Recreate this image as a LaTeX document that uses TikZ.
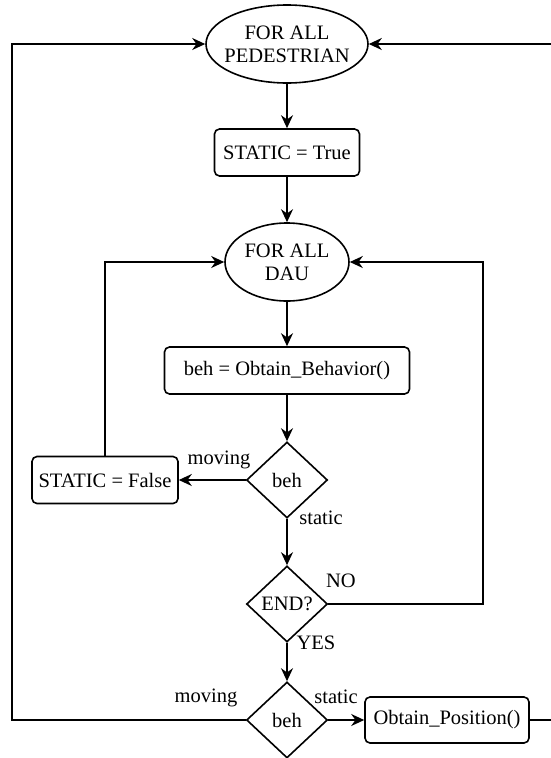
\documentclass[tikz,border=0pt]{standalone}
\usepackage{fontspec}
\setmainfont{Liberation Serif}
\usetikzlibrary{shapes.geometric,arrows.meta}

\begin{document}
\begin{tikzpicture}[x=1pt,y=-1pt,line width=1.6pt,
	font=\fontsize{20.5}{23}\selectfont,
	>={Stealth[length=13pt,width=12pt]},
	loopnode/.style={ellipse,draw,align=center,inner sep=0pt},
	procbox/.style={rectangle,draw,rounded corners=5pt,minimum height=47pt,inner sep=2pt},
	decision/.style={diamond,draw,inner sep=0pt,minimum width=81pt,minimum height=76pt},
	lbl/.style={inner sep=0pt}]
	% Fix the frame
	\clip (0,0) rectangle (551,758);
	
	% Draw the nodes
	\node[loopnode,inner xsep=-13pt,minimum width=162pt,minimum height=78pt] (ped) at (287,44) {FOR ALL\\PEDESTRIAN};
	\node[procbox,minimum width=145pt] (stTrue) at (287,152.5) {STATIC = True};
	\node[loopnode,minimum width=124pt,minimum height=78pt] (dau) at (287,262) {FOR ALL\\DAU};
	\node[procbox,minimum width=245pt] (obtBeh) at (287,370.5) {beh = Obtain\_Behavior()};
	\node[decision] (behA) at (287,480) {beh};
	\node[procbox,minimum width=146pt] (stFalse) at (105,480) {STATIC = False};
	\node[decision] (endq) at (287,604) {END?};
	\node[decision] (behB) at (287,720) {beh};
	\node[procbox,minimum width=164pt,minimum height=46pt] (obtPos) at (447,720) {Obtain\_Position()};
	
	% Loop corners
	\coordinate (rloop) at (483,262);
	\coordinate (lloop) at (12,44);
	\coordinate (rout) at (560,44);
	
	% Draw the arrows
	\draw[->] (ped) -- (stTrue);
	\draw[->] (stTrue) -- (dau);
	\draw[->] (dau) -- (obtBeh);
	\draw[->] (obtBeh) -- (behA);
	\draw[->] (behA) -- (endq);
	\draw[->] (endq) -- (behB);
	\draw[->] (behA.west) -- (stFalse.east);
	\draw[->] (stFalse.north) |- (dau.west);
	\draw[->] (endq.east) -| (rloop) -- (dau.east);
	\draw[->] (behB.east) -- (obtPos.west);
	\draw[->] (behB.west) -| (lloop) -- (ped.west);
	\draw[->] (obtPos.east) -| (rout) -- (ped.east);
	
	% Branch labels
	\node[lbl] (lmovA) at (219,460) {moving};
	\node[lbl] (lstatA) at (321,518) {static};
	\node[lbl] (lno) at (341,581) {NO};
	\node[lbl] (lyes) at (316,643) {YES};
	\node[lbl] (lstatB) at (336,697) {static};
	\node[lbl] (lmovB) at (206,698) {moving};
\end{tikzpicture}
\end{document}
